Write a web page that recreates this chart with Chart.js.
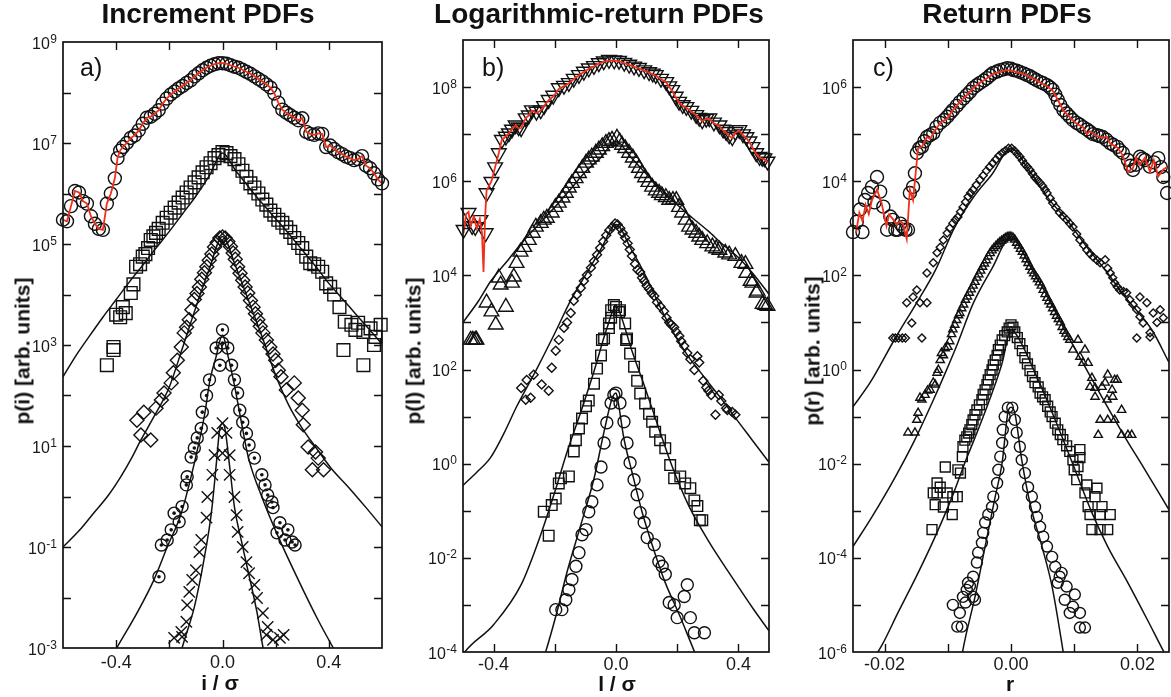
<!DOCTYPE html>
<html>
<head>
<meta charset="utf-8">
<script src="https://cdn.jsdelivr.net/npm/chart.js@4.4.1/dist/chart.umd.min.js"></script>
<style>
  html, body { margin:0; padding:0; background:#fff; width:1171px; height:697px; overflow:hidden; }
  canvas { position:absolute; top:0; }
  .t { position:absolute; font-family:"Liberation Sans", Arial, Helvetica, sans-serif; color:#111; line-height:1; white-space:nowrap; }
  .title { font-weight:bold; font-size:28px; transform:translateX(-50%); }
  .ytitle { font-weight:bold; font-size:21px; transform:translate(-50%,-50%) rotate(-90deg); }
  .xtitle { font-weight:bold; font-size:21px; transform:translateX(-50%); }
  .letter { font-size:25px; }
</style>
</head>
<body>
<canvas id="ca" width="390" height="697" style="left:0px"></canvas>
<canvas id="cb" width="390" height="697" style="left:390px"></canvas>
<canvas id="cc" width="391" height="697" style="left:780px"></canvas>

<div class="t title" style="left:208px; top:0px">Increment PDFs</div>
<div class="t title" style="left:599px; top:0px">Logarithmic-return PDFs</div>
<div class="t title" style="left:1007px; top:0px">Return PDFs</div>

<div class="t letter" style="left:80px; top:55px">a)</div>
<div class="t letter" style="left:482px; top:55px">b)</div>
<div class="t letter" style="left:873px; top:55px">c)</div>

<div class="t ytitle" style="left:22px; top:351px">p(i) [arb. units]</div>
<div class="t ytitle" style="left:413px; top:351px">p(l) [arb. units]</div>
<div class="t ytitle" style="left:812px; top:351px">p(r) [arb. units]</div>

<div class="t xtitle" style="left:220px; top:672px">i / σ</div>
<div class="t xtitle" style="left:617px; top:673px">l / σ</div>
<div class="t xtitle" style="left:1010px; top:673px">r</div>

<script>
// ---------------- DATA: pairs of [x, log10 p] ----------------
// Panel a) Increment PDFs
const aXTicks = [-0.6, -0.4, -0.2, 0, 0.2, 0.4, 0.6];
const aXText  = ['', '-0.4', '', '0.0', '', '0.4', ''];
const aYExps  = [-3,-2,-1,0,1,2,3,4,5,6,7,8,9];
const aYLabels = [9,7,5,3,1,-1,-3];

const aTop = [[-0.600,5.48],[-0.585,5.45],[-0.570,5.75],[-0.555,6.05],[-0.540,6.02],[-0.525,5.85],[-0.510,5.80],[-0.495,5.55],[-0.480,5.40],[-0.465,5.30],[-0.450,5.28],[-0.435,5.80],[-0.420,6.00],[-0.405,6.30],[-0.395,6.70],[-0.385,6.85],[-0.375,6.92],[-0.360,7.00],[-0.345,7.10],[-0.330,7.15],[-0.315,7.25],[-0.300,7.38],[-0.285,7.50],[-0.270,7.52],[-0.255,7.58],[-0.240,7.65],[-0.225,7.78],[-0.210,7.88],[-0.195,7.96],[-0.180,8.02],[-0.165,8.08],[-0.150,8.13],[-0.135,8.19],[-0.120,8.24],[-0.105,8.32],[-0.090,8.38],[-0.075,8.44],[-0.060,8.49],[-0.045,8.53],[-0.030,8.56],[-0.015,8.58],[0.000,8.58],[0.015,8.57],[0.030,8.54],[0.045,8.51],[0.060,8.49],[0.075,8.45],[0.090,8.41],[0.105,8.37],[0.120,8.32],[0.135,8.27],[0.150,8.22],[0.165,8.16],[0.180,8.10],[0.195,7.98],[0.210,7.80],[0.225,7.66],[0.240,7.60],[0.255,7.55],[0.270,7.50],[0.285,7.45],[0.300,7.49],[0.315,7.22],[0.330,7.18],[0.345,7.16],[0.360,7.19],[0.375,7.18],[0.390,6.92],[0.405,6.95],[0.420,6.88],[0.435,6.82],[0.450,6.78],[0.465,6.73],[0.480,6.70],[0.495,6.66],[0.510,6.68],[0.525,6.74],[0.540,6.55],[0.555,6.50],[0.570,6.40],[0.585,6.28],[0.600,6.20]];

const aSq = [[-0.435,2.60],[-0.41,2.90],[-0.41,2.96],[-0.40,3.60],[-0.385,3.55],[-0.375,3.75],[-0.364,3.63],[-0.345,4.03],[-0.335,4.20],[-0.325,4.55],[-0.31,4.60],[-0.30,4.75],[-0.29,4.80],[-0.28,4.92],[-0.27,5.08],[-0.26,5.15],[-0.25,5.22],[-0.24,5.30],[-0.225,5.42],[-0.21,5.52],[-0.195,5.62],[-0.18,5.72],[-0.165,5.82],[-0.15,5.92],[-0.135,6.02],[-0.12,6.12],[-0.105,6.22],[-0.09,6.32],[-0.075,6.42],[-0.06,6.52],[-0.045,6.60],[-0.03,6.70],[-0.015,6.76],[0,6.82],[0.015,6.80],[0.03,6.74],[0.045,6.68],[0.06,6.58],[0.075,6.45],[0.09,6.33],[0.105,6.20],[0.12,6.12],[0.135,6.00],[0.15,5.88],[0.165,5.78],[0.18,5.66],[0.195,5.58],[0.21,5.48],[0.225,5.42],[0.24,5.33],[0.255,5.24],[0.27,5.12],[0.285,5.02],[0.30,4.92],[0.315,4.75],[0.33,4.62],[0.345,4.60],[0.36,4.55],[0.375,4.45],[0.39,4.22],[0.405,4.15],[0.42,4.00],[0.44,3.75],[0.455,2.90],[0.46,3.46],[0.485,3.40],[0.50,3.30],[0.51,3.44],[0.53,2.60],[0.53,3.26],[0.557,3.33],[0.575,3.16],[0.595,3.40],[0.57,3.0]];
const aSqFit = [[-0.6,2.37],[-0.55,2.8],[-0.5,3.18],[-0.45,3.55],[-0.4,3.9],[-0.35,4.25],[-0.3,4.58],[-0.25,4.92],[-0.2,5.25],[-0.15,5.6],[-0.1,5.95],[-0.05,6.35],[0,6.8],[0.05,6.45],[0.1,6.12],[0.15,5.8],[0.2,5.5],[0.25,5.2],[0.3,4.88],[0.35,4.56],[0.4,4.22],[0.45,3.92],[0.5,3.62],[0.55,3.32],[0.6,3.02]];

const aDia = [[-0.322,1.51],[-0.307,1.22],[-0.296,1.67],[-0.27,1.12],[-0.25,1.75],[-0.23,1.91],[-0.22,2.05],[-0.193,2.25],[-0.185,2.45],[-0.17,2.7],[-0.155,2.96],[-0.144,3.24],[-0.135,3.35],[-0.125,3.5],[-0.115,3.7],[-0.106,3.9],[-0.096,4.02],[-0.087,4.15],[-0.078,4.3],[-0.068,4.43],[-0.059,4.55],[-0.05,4.68],[-0.04,4.8],[-0.03,4.94],[-0.02,5.03],[-0.01,5.12],[0.0,5.14],[0.01,5.12],[0.02,5.05],[0.03,4.95],[0.04,4.82],[0.048,4.7],[0.057,4.55],[0.066,4.42],[0.076,4.28],[0.085,4.15],[0.095,4.03],[0.105,3.88],[0.115,3.75],[0.124,3.62],[0.133,3.5],[0.142,3.37],[0.152,3.24],[0.165,3.1],[0.178,2.96],[0.19,2.82],[0.2,2.7],[0.21,2.5],[0.22,2.37],[0.24,2.11],[0.27,2.25],[0.285,1.95],[0.3,1.71],[0.304,1.42],[0.322,0.98],[0.35,0.88],[0.36,0.76],[0.338,0.53],[0.38,0.53]];
const aDiaFit = [[-0.6,-1.0],[-0.54,-0.68],[-0.485,-0.33],[-0.43,0.02],[-0.383,0.39],[-0.34,0.78],[-0.307,1.12],[-0.258,1.58],[-0.2,2.17],[-0.15,2.95],[-0.1,3.75],[-0.05,4.5],[0,5.15],[0.05,4.55],[0.1,3.85],[0.15,3.15],[0.2,2.4],[0.25,1.8],[0.3,1.35],[0.35,0.98],[0.41,0.55],[0.473,0.19],[0.54,-0.22],[0.6,-0.6]];

const aBull = [[-0.239,-1.59],[-0.23,-0.96],[-0.208,-0.86],[-0.193,-0.66],[-0.182,-0.33],[-0.163,-0.5],[-0.152,-0.2],[-0.136,0.23],[-0.133,0.39],[-0.118,0.78],[-0.106,0.96],[-0.095,1.16],[-0.08,1.35],[-0.076,1.67],[-0.06,2.0],[-0.049,2.31],[-0.024,2.94],[-0.01,2.6],[0,3.04],[0,3.3],[0.02,2.94],[0.034,2.6],[0.045,2.31],[0.057,2.05],[0.065,1.71],[0.076,1.47],[0.09,1.25],[0.1,1.02],[0.12,0.76],[0.148,0.43],[0.16,0.23],[0.17,0.03],[0.186,-0.11],[0.19,-0.22],[0.216,-0.52],[0.246,-0.66],[0.205,-0.72],[0.235,-0.86],[0.262,-0.9],[0.273,-0.96]];
const aBullFit = [[-0.44,-3.4],[-0.398,-3.0],[-0.322,-2.31],[-0.258,-1.65],[-0.208,-1.0],[-0.155,-0.33],[-0.106,0.66],[-0.068,1.6],[-0.047,2.31],[-0.025,2.75],[0,3.2],[0.02,2.8],[0.045,2.2],[0.07,1.5],[0.097,0.78],[0.148,-0.01],[0.21,-0.8],[0.285,-1.65],[0.36,-2.45],[0.417,-3.0],[0.45,-3.3]];

const aX = [[-0.02,1.26],[0,1.45],[-0.03,0.82],[-0.038,0.43],[-0.057,-0.01],[-0.06,-0.42],[-0.08,-0.86],[-0.087,-1.1],[-0.1,-1.46],[-0.114,-1.65],[-0.125,-1.89],[-0.133,-2.15],[-0.136,-2.48],[-0.155,-2.68],[-0.182,-2.8],[-0.152,-2.78],[0,0.86],[0.015,1.26],[0.027,0.82],[0.027,0.43],[0.045,-0.01],[0.053,-0.37],[0.057,-0.7],[0.076,-1.0],[0.09,-1.3],[0.1,-1.52],[0.12,-1.75],[0.13,-2.01],[0.152,-2.31],[0.17,-2.58],[0.19,-2.84],[0.23,-2.74],[0.216,-2.8],[0.165,-2.74]];
const aXFit = [[-0.17,-3.4],[-0.152,-3.0],[-0.106,-2.19],[-0.068,-1.2],[-0.042,-0.33],[-0.023,0.66],[-0.011,1.32],[0,1.45],[0.01,1.32],[0.027,0.59],[0.045,-0.21],[0.072,-0.9],[0.095,-1.45],[0.13,-2.3],[0.152,-2.98],[0.165,-3.3]];

// Panel b) Logarithmic-return PDFs
const bXTicks = [-0.5, -0.4, -0.2, 0, 0.2, 0.4, 0.5];
const bXText  = ['', '-0.4', '', '0.0', '', '0.4', ''];
const bYExps  = [-4,-3,-2,-1,0,1,2,3,4,5,6,7,8,9];
const bYLabels = [8,6,4,2,0,-2,-4];

const bTop = [[-0.498,4.97],[-0.482,5.33],[-0.47,5.05],[-0.46,5.03],[-0.443,5.18],[-0.426,4.9],[-0.423,5.75],[-0.407,5.99],[-0.395,6.3],[-0.383,6.6],[-0.373,6.88],[-0.36,6.95],[-0.35,7.02],[-0.34,7.1],[-0.328,7.19],[-0.318,7.15],[-0.31,7.13],[-0.295,7.34],[-0.285,7.4],[-0.275,7.51],[-0.26,7.48],[-0.246,7.51],[-0.235,7.6],[-0.22,7.73],[-0.205,7.82],[-0.187,7.98],[-0.17,8.03],[-0.154,8.09],[-0.138,8.18],[-0.121,8.26],[-0.105,8.33],[-0.089,8.4],[-0.072,8.45],[-0.056,8.51],[-0.04,8.55],[-0.023,8.58],[-0.006,8.57],[0.01,8.56],[0.027,8.52],[0.043,8.48],[0.059,8.44],[0.075,8.41],[0.092,8.36],[0.108,8.32],[0.12,8.29],[0.13,8.26],[0.147,8.18],[0.164,8.11],[0.174,8.02],[0.184,7.94],[0.195,7.8],[0.206,7.69],[0.218,7.62],[0.23,7.58],[0.246,7.5],[0.262,7.41],[0.272,7.35],[0.282,7.3],[0.295,7.33],[0.305,7.34],[0.32,7.25],[0.338,7.19],[0.35,7.1],[0.36,7.05],[0.37,6.98],[0.38,6.94],[0.39,7.05],[0.403,7.09],[0.415,7.0],[0.426,6.94],[0.436,6.85],[0.446,6.73],[0.458,6.6],[0.469,6.52],[0.478,6.5],[0.485,6.49],[0.495,6.42]];
const bRed = [[-0.498,4.9],[-0.49,5.3],[-0.482,5.35],[-0.475,5.05],[-0.465,5.25],[-0.455,5.0],[-0.445,5.2],[-0.438,4.9],[-0.433,4.07],[-0.428,5.2],[-0.423,5.8],[-0.407,6.0],[-0.395,6.3],[-0.383,6.6],[-0.373,6.88],[-0.36,6.95],[-0.35,7.02],[-0.34,7.1],[-0.328,7.19],[-0.318,7.12],[-0.31,7.13],[-0.295,7.34],[-0.285,7.4],[-0.275,7.5],[-0.26,7.45],[-0.246,7.5],[-0.235,7.6],[-0.22,7.72],[-0.205,7.8],[-0.187,7.96],[-0.17,8.02],[-0.154,8.08],[-0.138,8.17],[-0.121,8.25],[-0.105,8.32],[-0.089,8.39],[-0.072,8.44],[-0.056,8.5],[-0.04,8.54],[-0.023,8.56],[-0.006,8.56],[0.01,8.55],[0.027,8.51],[0.043,8.47],[0.059,8.43],[0.075,8.4],[0.092,8.35],[0.108,8.31],[0.12,8.27],[0.13,8.24],[0.147,8.17],[0.164,8.1],[0.174,8.0],[0.184,7.92],[0.195,7.78],[0.206,7.67],[0.218,7.6],[0.23,7.56],[0.246,7.48],[0.262,7.4],[0.272,7.33],[0.282,7.28],[0.295,7.32],[0.305,7.33],[0.32,7.23],[0.338,7.17],[0.35,7.08],[0.36,7.03],[0.37,6.96],[0.38,6.92],[0.39,7.03],[0.403,7.07],[0.415,6.98],[0.426,6.92],[0.436,6.83],[0.446,6.72],[0.458,6.58],[0.469,6.5],[0.478,6.48],[0.485,6.47],[0.495,6.4]];

const bTri = [[-0.475,2.63],[-0.468,2.63],[-0.46,2.63],[-0.456,2.63],[-0.423,3.42],[-0.407,3.23],[-0.393,2.95],[-0.383,3.95],[-0.377,3.8],[-0.36,3.33],[-0.34,3.84],[-0.334,3.97],[-0.325,4.26],[-0.312,4.5],[-0.3,4.6],[-0.285,4.75],[-0.272,4.9],[-0.262,5.03],[-0.246,5.11],[-0.236,5.18],[-0.226,5.22],[-0.21,5.33],[-0.198,5.45],[-0.187,5.54],[-0.175,5.65],[-0.164,5.75],[-0.154,5.86],[-0.144,5.96],[-0.132,6.06],[-0.121,6.17],[-0.11,6.28],[-0.098,6.39],[-0.089,6.46],[-0.079,6.52],[-0.066,6.6],[-0.056,6.67],[-0.045,6.74],[-0.033,6.81],[-0.023,6.85],[-0.013,6.88],[0.003,6.92],[0.012,6.84],[0.02,6.77],[0.03,6.7],[0.043,6.6],[0.055,6.5],[0.066,6.39],[0.075,6.28],[0.085,6.17],[0.095,6.08],[0.106,5.98],[0.118,5.88],[0.13,5.8],[0.141,5.75],[0.15,5.7],[0.163,5.66],[0.174,5.6],[0.186,5.6],[0.197,5.6],[0.206,5.45],[0.216,5.33],[0.228,5.18],[0.239,5.03],[0.25,4.97],[0.262,4.9],[0.272,4.82],[0.282,4.75],[0.298,4.68],[0.315,4.61],[0.327,4.57],[0.338,4.54],[0.357,4.48],[0.37,4.44],[0.39,4.41],[0.41,4.26],[0.423,4.24],[0.426,4.05],[0.44,3.88],[0.446,3.84],[0.459,3.63],[0.462,3.67],[0.479,3.39],[0.487,3.37],[0.495,3.35]];
const bTriFit = [[-0.5,3.0],[-0.45,3.45],[-0.41,3.87],[-0.35,4.35],[-0.3,4.75],[-0.25,5.1],[-0.2,5.45],[-0.15,5.82],[-0.1,6.2],[-0.05,6.5],[0,6.85],[0.05,6.5],[0.1,6.15],[0.15,5.82],[0.2,5.5],[0.25,5.22],[0.3,4.95],[0.35,4.65],[0.4,4.38],[0.45,4.02],[0.5,3.6]];

const bDia = [[-0.31,1.61],[-0.295,1.36],[-0.279,1.4],[-0.292,1.78],[-0.269,1.89],[-0.243,1.68],[-0.22,1.55],[-0.21,2.04],[-0.197,2.4],[-0.187,2.63],[-0.17,2.89],[-0.16,3.0],[-0.148,3.2],[-0.138,3.46],[-0.128,3.59],[-0.115,3.73],[-0.105,3.88],[-0.095,4.01],[-0.082,4.16],[-0.072,4.3],[-0.062,4.44],[-0.052,4.58],[-0.042,4.72],[-0.032,4.85],[-0.022,4.96],[-0.012,5.03],[-0.003,5.1],[0.005,5.08],[0.014,5.0],[0.022,4.9],[0.03,4.8],[0.038,4.68],[0.045,4.55],[0.052,4.41],[0.062,4.24],[0.07,4.12],[0.079,4.07],[0.085,3.95],[0.092,3.88],[0.1,3.78],[0.108,3.71],[0.117,3.62],[0.125,3.56],[0.134,3.43],[0.145,3.34],[0.157,3.24],[0.165,3.1],[0.174,3.0],[0.18,2.95],[0.19,2.9],[0.197,2.8],[0.207,2.71],[0.213,2.6],[0.223,2.5],[0.233,2.35],[0.243,2.22],[0.256,1.99],[0.266,2.28],[0.272,2.15],[0.285,1.76],[0.295,1.62],[0.302,1.55],[0.311,1.46],[0.325,1.04],[0.336,1.46],[0.344,1.33],[0.36,1.18],[0.364,1.14],[0.38,1.1],[0.39,1.04]];
const bDiaFit = [[-0.5,-0.46],[-0.455,-0.18],[-0.41,0.13],[-0.365,0.66],[-0.325,1.21],[-0.26,2.0],[-0.2,2.77],[-0.148,3.47],[-0.095,4.06],[-0.05,4.55],[0,5.08],[0.05,4.55],[0.1,3.95],[0.148,3.28],[0.19,2.75],[0.236,2.28],[0.275,1.95],[0.311,1.65],[0.35,1.33],[0.386,1.01],[0.443,0.52],[0.5,0.03]];

const bSq = [[-0.22,-1.53],[-0.236,-1.02],[-0.21,-0.88],[-0.197,-0.74],[-0.187,-0.42],[-0.18,-0.31],[-0.154,-0.27],[-0.138,0.26],[-0.131,0.5],[-0.121,0.75],[-0.111,0.96],[-0.098,1.22],[-0.089,1.34],[-0.072,1.7],[-0.062,2.02],[-0.049,2.3],[-0.046,2.63],[-0.039,2.66],[-0.023,2.98],[-0.023,2.88],[-0.016,3.1],[-0.016,3.26],[-0.007,3.37],[0.0,3.33],[0.01,3.22],[0.013,3.26],[0.03,2.98],[0.033,2.63],[0.036,2.66],[0.046,2.34],[0.059,2.06],[0.069,1.76],[0.079,1.49],[0.095,1.28],[0.108,1.06],[0.118,0.89],[0.128,0.68],[0.144,0.5],[0.161,0.33],[0.177,-0.03],[0.19,-0.31],[0.21,-0.27],[0.226,-0.42],[0.243,-0.52],[0.256,-0.78],[0.266,-0.9],[0.282,-1.2],[0.274,-1.2]];
const bSqFit = [[-0.52,-4.3],[-0.5,-4.05],[-0.4,-3.42],[-0.31,-2.57],[-0.246,-1.51],[-0.2,-0.6],[-0.16,0.25],[-0.115,1.1],[-0.072,1.96],[-0.03,2.87],[0,3.35],[0.01,3.25],[0.052,2.4],[0.095,1.61],[0.14,0.75],[0.183,-0.05],[0.236,-0.87],[0.302,-1.64],[0.38,-2.42],[0.446,-3.06],[0.5,-3.55]];

const bCirc = [[-0.197,-3.1],[-0.177,-3.1],[-0.164,-2.89],[-0.154,-2.68],[-0.144,-2.46],[-0.131,-2.18],[-0.121,-1.89],[-0.111,-1.51],[-0.098,-1.4],[-0.089,-1.02],[-0.079,-0.81],[-0.062,-0.45],[-0.049,-0.07],[-0.039,0.44],[-0.03,0.87],[-0.016,1.29],[-0.007,1.46],[0,1.5],[0.013,1.29],[0.026,0.89],[0.036,0.44],[0.046,0.02],[0.059,-0.34],[0.069,-0.66],[0.079,-1.04],[0.092,-1.25],[0.102,-1.57],[0.125,-1.72],[0.14,-2.08],[0.151,-2.18],[0.161,-2.35],[0.174,-2.95],[0.19,-3.0],[0.2,-3.27],[0.223,-2.82],[0.233,-2.57],[0.243,-3.27],[0.256,-3.59],[0.289,-3.59]];
const bCircFit = [[-0.24,-4.2],[-0.23,-4.0],[-0.193,-3.15],[-0.16,-2.3],[-0.115,-1.3],[-0.072,-0.32],[-0.039,0.68],[-0.013,1.38],[0,1.5],[0.003,1.45],[0.026,0.53],[0.052,-0.17],[0.085,-1.02],[0.118,-1.72],[0.16,-2.51],[0.207,-3.21],[0.243,-3.78],[0.26,-4.05]];

// Panel c) Return PDFs
const cXTicks = [-0.025, -0.02, -0.01, 0, 0.01, 0.02, 0.025];
const cXText  = ['', '-0.02', '', '0.00', '', '0.02', ''];
const cYExps  = [-6,-5,-4,-3,-2,-1,0,1,2,3,4,5,6,7];
const cYLabels = [6,4,2,0,-2,-4,-6];

const cTop = [[-0.025,2.92],[-0.0244,3.14],[-0.0239,3.4],[-0.0235,2.92],[-0.0231,3.6],[-0.0226,3.75],[-0.022,3.88],[-0.0216,3.55],[-0.0212,4.09],[-0.0207,3.78],[-0.0202,3.46],[-0.0196,2.97],[-0.0191,3.25],[-0.0187,3.18],[-0.0183,2.97],[-0.0179,2.97],[-0.0175,3.1],[-0.0171,3.03],[-0.0167,2.97],[-0.0163,2.97],[-0.016,3.75],[-0.0155,3.88],[-0.0152,4.17],[-0.0149,4.6],[-0.0145,4.7],[-0.0141,4.73],[-0.0137,4.85],[-0.0133,4.94],[-0.0128,4.98],[-0.0123,5.02],[-0.0118,5.15],[-0.0112,5.24],[-0.0106,5.3],[-0.0101,5.37],[-0.0096,5.45],[-0.0092,5.51],[-0.0086,5.6],[-0.0081,5.68],[-0.0075,5.76],[-0.007,5.83],[-0.0065,5.9],[-0.006,5.98],[-0.0054,6.04],[-0.0049,6.09],[-0.0043,6.14],[-0.0038,6.19],[-0.0033,6.25],[-0.0028,6.3],[-0.0022,6.33],[-0.0017,6.36],[-0.0011,6.38],[-0.0006,6.4],[0,6.39],[0.0004,6.36],[0.0009,6.35],[0.0014,6.32],[0.002,6.29],[0.0025,6.26],[0.003,6.23],[0.0035,6.19],[0.004,6.15],[0.0046,6.11],[0.0051,6.08],[0.0057,6.04],[0.0062,5.99],[0.0066,5.94],[0.007,5.84],[0.0074,5.73],[0.0078,5.62],[0.0083,5.51],[0.0088,5.44],[0.0093,5.37],[0.0098,5.3],[0.0104,5.24],[0.0109,5.2],[0.0114,5.15],[0.012,5.1],[0.0125,5.05],[0.013,5.0],[0.0136,4.98],[0.014,4.96],[0.0145,4.94],[0.0151,4.88],[0.0157,4.81],[0.0162,4.77],[0.0168,4.73],[0.0172,4.66],[0.0177,4.6],[0.0185,4.45],[0.0189,4.33],[0.0193,4.24],[0.0198,4.35],[0.0204,4.52],[0.0208,4.48],[0.0212,4.45],[0.022,4.31],[0.0226,4.4],[0.0233,4.49],[0.0237,4.3],[0.0241,4.09],[0.0247,3.75]];
const cRed = [[-0.0245,2.92],[-0.024,3.33],[-0.0235,3.15],[-0.023,3.5],[-0.0225,3.3],[-0.022,3.6],[-0.0212,3.82],[-0.0205,3.55],[-0.0197,3.05],[-0.0193,3.29],[-0.0187,3.2],[-0.0181,3.08],[-0.0175,3.15],[-0.0171,3.1],[-0.0165,2.77],[-0.016,3.82],[-0.0155,3.6],[-0.0147,4.7],[-0.0141,4.73],[-0.0133,4.94],[-0.0128,4.9],[-0.0123,5.02],[-0.0112,5.24],[-0.0101,5.33],[-0.0092,5.51],[-0.0081,5.68],[-0.007,5.83],[-0.006,5.98],[-0.0049,6.09],[-0.0038,6.19],[-0.0028,6.28],[-0.0017,6.33],[-0.0006,6.36],[0.0004,6.34],[0.0014,6.3],[0.0025,6.25],[0.0035,6.18],[0.0046,6.1],[0.0057,6.02],[0.0066,5.92],[0.0074,5.73],[0.0083,5.5],[0.0093,5.36],[0.0104,5.22],[0.0114,5.15],[0.012,5.0],[0.0125,5.06],[0.0136,4.96],[0.0145,4.92],[0.0151,4.95],[0.0157,4.8],[0.0168,4.72],[0.0177,4.55],[0.0185,4.2],[0.0193,4.28],[0.0198,4.5],[0.0204,4.35],[0.0212,4.5],[0.022,4.2],[0.0226,4.45],[0.0233,4.1],[0.0241,4.25],[0.0247,4.3]];

const cDia = [[-0.0187,0.67],[-0.0183,0.67],[-0.0178,0.67],[-0.0172,0.67],[-0.0167,0.67],[-0.0141,0.67],[-0.0165,1.42],[-0.0157,0.99],[-0.0155,1.54],[-0.0144,1.42],[-0.0133,1.42],[-0.0149,1.69],[-0.0133,2.05],[-0.0123,2.27],[-0.0117,2.48],[-0.0112,2.6],[-0.0107,2.75],[-0.0101,2.9],[-0.0097,3.0],[-0.0092,3.11],[-0.0088,3.18],[-0.0084,3.24],[-0.008,3.35],[-0.0076,3.45],[-0.0072,3.56],[-0.0068,3.67],[-0.0064,3.75],[-0.006,3.82],[-0.0055,3.92],[-0.0049,4.03],[-0.0044,4.12],[-0.0039,4.22],[-0.0034,4.3],[-0.0029,4.38],[-0.0024,4.46],[-0.0019,4.54],[-0.0014,4.6],[-0.0009,4.65],[-0.0004,4.7],[0.0001,4.7],[0.0006,4.64],[0.001,4.58],[0.0014,4.52],[0.0018,4.44],[0.0022,4.36],[0.0026,4.3],[0.003,4.24],[0.0034,4.16],[0.0038,4.08],[0.0042,4.02],[0.0046,3.96],[0.005,3.9],[0.0054,3.82],[0.0057,3.75],[0.0062,3.64],[0.0066,3.54],[0.0071,3.44],[0.0077,3.33],[0.0082,3.26],[0.0088,3.18],[0.0093,3.1],[0.0098,3.03],[0.0104,2.88],[0.0109,2.75],[0.0115,2.64],[0.012,2.54],[0.0125,2.46],[0.013,2.39],[0.0136,2.32],[0.0141,2.27],[0.0149,2.33],[0.0153,2.15],[0.0157,2.05],[0.0161,1.95],[0.0164,1.84],[0.0168,1.76],[0.0172,1.69],[0.0178,1.66],[0.0183,1.63],[0.0188,1.48],[0.0193,1.38],[0.0199,1.27],[0.0204,1.54],[0.0209,0.99],[0.0204,1.12],[0.0215,1.42],[0.022,0.78],[0.0225,1.2],[0.0231,1.0],[0.0236,1.27],[0.0199,0.67],[0.022,0.69],[0.0241,1.1]];
const cDiaFit = [[-0.025,-0.79],[-0.0223,-0.28],[-0.0183,0.67],[-0.015,1.4],[-0.012,2.1],[-0.009,3.0],[-0.006,3.65],[-0.003,4.15],[0,4.7],[0.003,4.2],[0.006,3.62],[0.009,3.15],[0.012,2.6],[0.015,2.1],[0.018,1.55],[0.0223,0.84],[0.025,0.15]];

const cTri = [[-0.0163,-1.34],[-0.0152,-1.34],[-0.0149,-1.07],[-0.0147,-0.92],[-0.0144,-0.6],[-0.0141,-0.64],[-0.0136,-0.54],[-0.0132,-0.45],[-0.0128,-0.43],[-0.0123,-0.28],[-0.012,-0.32],[-0.0117,-0.07],[-0.0115,-0.01],[-0.0112,0.2],[-0.011,0.35],[-0.0107,0.3],[-0.0104,0.45],[-0.01,0.48],[-0.0097,0.6],[-0.0094,0.75],[-0.0092,0.85],[-0.0089,0.95],[-0.0086,1.05],[-0.0083,1.15],[-0.0081,1.2],[-0.0078,1.3],[-0.0075,1.38],[-0.0072,1.48],[-0.0069,1.55],[-0.0066,1.63],[-0.0063,1.7],[-0.006,1.78],[-0.0057,1.86],[-0.0054,1.95],[-0.0051,2.02],[-0.0048,2.1],[-0.0045,2.18],[-0.0042,2.25],[-0.0039,2.32],[-0.0036,2.4],[-0.0033,2.47],[-0.003,2.53],[-0.0027,2.58],[-0.0024,2.62],[-0.0021,2.66],[-0.0018,2.7],[-0.0015,2.73],[-0.0012,2.76],[-0.0009,2.79],[-0.0006,2.81],[-0.0003,2.82],[0,2.82],[0.0003,2.8],[0.0006,2.76],[0.0009,2.69],[0.0012,2.63],[0.0015,2.56],[0.0018,2.5],[0.0021,2.42],[0.0024,2.34],[0.0027,2.26],[0.003,2.18],[0.0033,2.1],[0.0036,2.04],[0.0039,1.98],[0.0042,1.92],[0.0045,1.85],[0.0048,1.78],[0.0051,1.69],[0.0054,1.6],[0.0057,1.52],[0.006,1.45],[0.0063,1.38],[0.0066,1.3],[0.0069,1.22],[0.0072,1.14],[0.0075,1.07],[0.0078,1.0],[0.0081,0.9],[0.0084,0.82],[0.0087,0.76],[0.009,0.69],[0.0093,0.63],[0.0098,0.42],[0.0106,0.63],[0.0109,0.27],[0.0114,0.14],[0.0117,0.42],[0.0122,0.14],[0.0125,-0.37],[0.0128,-0.18],[0.0133,-0.39],[0.0133,-0.58],[0.0138,-1.39],[0.0141,-1.07],[0.0144,-0.37],[0.0149,-0.28],[0.0152,-0.64],[0.0153,-0.11],[0.0153,-1.07],[0.016,-0.43],[0.0161,-0.58],[0.0164,-0.22],[0.0164,-1.07],[0.0168,-0.22],[0.0175,-0.86],[0.0175,-1.39],[0.0185,-1.39],[0.0191,-1.39]];
const cTriFit = [[-0.025,-3.76],[-0.022,-3.13],[-0.0183,-2.28],[-0.0152,-1.49],[-0.0125,-0.71],[-0.0104,-0.07],[-0.0084,0.57],[-0.006,1.4],[-0.003,2.15],[0,2.82],[0.003,2.2],[0.006,1.5],[0.0085,0.84],[0.0117,0.06],[0.0149,-0.71],[0.018,-1.43],[0.0212,-2.13],[0.025,-2.98]];

const cSq = [[-0.0125,-3.4],[-0.0123,-2.62],[-0.012,-2.87],[-0.0117,-2.41],[-0.0117,-2.62],[-0.0112,-2.5],[-0.0107,-2.92],[-0.0104,-2.07],[-0.0101,-2.62],[-0.0093,-3.08],[-0.0092,-2.7],[-0.0085,-2.7],[-0.0084,-2.13],[-0.008,-2.2],[-0.0077,-1.85],[-0.0076,-1.64],[-0.0073,-1.5],[-0.007,-1.43],[-0.0067,-1.35],[-0.0065,-1.28],[-0.0062,-1.17],[-0.006,-1.07],[-0.0057,-0.96],[-0.0054,-0.86],[-0.005,-0.75],[-0.0046,-0.64],[-0.0044,-0.53],[-0.0041,-0.43],[-0.0038,-0.32],[-0.0036,-0.22],[-0.0033,-0.11],[-0.003,-0.01],[-0.0028,0.1],[-0.0025,0.2],[-0.0022,0.3],[-0.002,0.42],[-0.0017,0.52],[-0.0014,0.63],[-0.001,0.72],[-0.0006,0.8],[-0.0003,0.88],[0,0.95],[0.0003,0.9],[0.0006,0.8],[0.001,0.68],[0.0014,0.55],[0.0018,0.4],[0.0022,0.25],[0.0026,0.12],[0.003,-0.02],[0.0034,-0.15],[0.0038,-0.28],[0.0043,-0.37],[0.0046,-0.5],[0.005,-0.58],[0.0054,-0.64],[0.0058,-0.78],[0.0062,-0.9],[0.0065,-1.0],[0.007,-1.14],[0.0074,-1.28],[0.0078,-1.38],[0.0082,-1.49],[0.0088,-1.62],[0.0093,-1.74],[0.0098,-1.92],[0.01,-2.13],[0.0109,-1.7],[0.0109,-1.87],[0.0106,-2.06],[0.0104,-2.34],[0.012,-2.45],[0.0136,-2.52],[0.0117,-2.62],[0.0133,-2.7],[0.0122,-2.91],[0.0144,-2.91],[0.0125,-3.08],[0.0141,-3.08],[0.0157,-3.08],[0.0128,-3.4],[0.0141,-3.4],[0.0153,-3.4]];
const cSqFit = [[-0.022,-6.2],[-0.0204,-5.85],[-0.0179,-5.17],[-0.0147,-4.32],[-0.012,-3.55],[-0.0093,-2.7],[-0.0073,-1.98],[-0.0052,-1.28],[-0.003,-0.5],[-0.0014,0.14],[0,0.85],[0.0011,0.69],[0.0043,-0.22],[0.007,-1.07],[0.0097,-1.98],[0.0128,-3.04],[0.0153,-3.76],[0.0185,-4.53],[0.0216,-5.32],[0.024,-5.95],[0.0252,-6.25]];

const cCirc = [[-0.0005,-0.81],[-0.001,-1.0],[-0.0013,-1.28],[-0.0014,-1.56],[-0.0017,-1.85],[-0.002,-2.13],[-0.0022,-2.41],[-0.0028,-2.7],[-0.003,-2.92],[-0.0036,-3.08],[-0.0041,-3.25],[-0.0044,-3.47],[-0.0046,-3.68],[-0.0052,-3.89],[-0.0054,-4.1],[-0.006,-4.4],[-0.0068,-4.53],[-0.007,-4.68],[-0.0076,-4.83],[-0.006,-4.83],[-0.0057,-4.89],[-0.0092,-5.0],[-0.0081,-5.17],[-0.0085,-5.46],[-0.0078,-5.46],[-0.0065,-4.6],[-0.0072,-4.95],[0.0002,-0.81],[0.0006,-1.07],[0.0009,-1.34],[0.0014,-1.64],[0.0017,-1.92],[0.0022,-2.2],[0.0027,-2.5],[0.0033,-2.7],[0.0038,-2.92],[0.0041,-3.13],[0.0046,-3.34],[0.0051,-3.55],[0.0057,-3.76],[0.0065,-3.98],[0.007,-4.19],[0.0077,-4.4],[0.0088,-4.61],[0.0074,-4.53],[0.0101,-4.78],[0.0085,-4.89],[0.0098,-5.04],[0.0093,-5.17],[0.0109,-5.17],[0.0109,-5.48],[0.0117,-5.48],[0.008,-4.32]];
const cCircFit = [[-0.008,-6.3],[-0.0076,-5.95],[-0.0057,-4.83],[-0.0041,-3.76],[-0.0025,-2.7],[-0.0014,-1.98],[-0.0005,-0.92],[0,-0.8],[0.0006,-0.92],[0.0017,-1.92],[0.003,-2.84],[0.0049,-3.76],[0.0065,-4.61],[0.0082,-5.95],[0.0086,-6.3]];

// ---------------- drawing helpers ----------------
const FONT = '"Liberation Sans", Arial, Helvetica, sans-serif';
const INK = '#111111';
const RED = '#f0301a';

function pts(pairs) { return pairs.map(p => ({ x: p[0], y: Math.pow(10, p[1]) })); }

function markers(pairs, style, r, extra) {
  return Object.assign({
    type: 'scatter', data: pts(pairs), pointStyle: style,
    pointRadius: r, pointHoverRadius: r,
    pointBorderColor: INK, pointBackgroundColor: 'rgba(0,0,0,0)',
    pointBorderWidth: 1.4, showLine: false, clip: false, order: 2
  }, extra || {});
}
function fitLine(pairs) {
  return { type: 'line', data: pts(pairs), borderColor: INK, borderWidth: 1.5,
    pointRadius: 0, pointHoverRadius: 0, cubicInterpolationMode: 'monotone', fill: false, order: 1 };
}
function redLine(pairs) {
  return { type: 'line', data: pts(pairs), borderColor: RED, borderWidth: 1.8,
    pointRadius: 0, pointHoverRadius: 0, tension: 0, fill: false, order: 0 };
}

const framePlugin = {
  id: 'frame',
  afterDatasetsDraw(chart, args, opts) {
    const { ctx, chartArea: a } = chart;
    const xs = chart.scales.x, ys = chart.scales.y;
    ctx.save();
    ctx.strokeStyle = INK;
    ctx.lineWidth = 1.4;
    ctx.beginPath();
    xs.ticks.forEach(t => {
      if (t.value <= xs.min || t.value >= xs.max) return;
      const px = Math.round(xs.getPixelForValue(t.value)) + 0.5;
      ctx.moveTo(px, a.bottom); ctx.lineTo(px, a.bottom - 8);
      ctx.moveTo(px, a.top); ctx.lineTo(px, a.top + 8);
    });
    ys.ticks.forEach(t => {
      if (t.value <= ys.min * 1.0001 || t.value >= ys.max * 0.9999) return;
      const py = Math.round(ys.getPixelForValue(t.value)) + 0.5;
      ctx.moveTo(a.left, py); ctx.lineTo(a.left + 8, py);
      ctx.moveTo(a.right, py); ctx.lineTo(a.right - 8, py);
    });
    ctx.stroke();
    ctx.lineWidth = 1.7;
    ctx.strokeRect(a.left, a.top, a.right - a.left, a.bottom - a.top);

    // y tick labels: "10" with superscript exponent
    ctx.fillStyle = '#1a1a1a';
    ctx.textBaseline = 'alphabetic';
    (opts.labels || []).forEach(e => {
      const py = ys.getPixelForValue(Math.pow(10, e));
      const sup = String(e);
      const right = a.left - 6;
      ctx.font = '12px ' + FONT;
      const sw = ctx.measureText(sup).width;
      ctx.textAlign = 'left';
      ctx.fillText(sup, right - sw, py + 0.5);
      ctx.font = '16px ' + FONT;
      ctx.textAlign = 'right';
      ctx.fillText('10', right - sw - 0.5, py + 6.5);
    });
    ctx.restore();
  }
};

function makeChart(id, cfg) {
  return new Chart(document.getElementById(id), {
    type: 'scatter',
    data: { datasets: cfg.datasets },
    options: {
      responsive: false, animation: false, events: [],
      layout: { autoPadding: false, padding: { left: 0, right: cfg.padRight, top: cfg.padTop, bottom: 0 } },
      plugins: { legend: { display: false }, tooltip: { enabled: false }, frame: { labels: cfg.yLabels } },
      scales: {
        x: {
          type: 'linear', min: cfg.xMin, max: cfg.xMax,
          grid: { display: false, drawTicks: false }, border: { display: false },
          afterBuildTicks: s => { s.ticks = cfg.xTicks.map(v => ({ value: v })); },
          afterFit: s => { s.height = cfg.xHeight; },
          ticks: { autoSkip: false, maxRotation: 0, minRotation: 0, padding: cfg.xPad, color: '#1a1a1a',
                   font: { family: FONT, size: 18 }, callback: (v, i) => cfg.xText[i] }
        },
        y: {
          type: 'logarithmic', min: Math.pow(10, cfg.yExps[0]), max: Math.pow(10, cfg.yExps[cfg.yExps.length - 1]),
          grid: { display: false, drawTicks: false }, border: { display: false },
          afterBuildTicks: s => { s.ticks = cfg.yExps.map(e => ({ value: Math.pow(10, e) })); },
          afterFit: s => { s.width = cfg.yWidth; },
          ticks: { display: false }
        }
      }
    },
    plugins: [framePlugin]
  });
}

// Panel a
makeChart('ca', {
  xMin: -0.6, xMax: 0.6, xTicks: aXTicks, xText: aXText, yExps: aYExps, yLabels: aYLabels,
  padTop: 42, padRight: 8, yWidth: 63, xHeight: 49, xPad: 4,
  datasets: [
    redLine(aTop),
    markers(aTop, 'circle', 6.5),
    fitLine(aSqFit), markers(aSq, 'rect', 9),
    fitLine(aDiaFit), markers(aDia, 'rectRot', 7),
    fitLine(aBullFit), markers(aBull, 'circle', 6),
    markers(aBull, 'circle', 1.8, { pointBackgroundColor: INK, pointBorderWidth: 0 }),
    fitLine(aXFit), markers(aX, 'crossRot', 8)
  ]
});

// Panel b
makeChart('cb', {
  xMin: -0.5, xMax: 0.5, xTicks: bXTicks, xText: bXText, yExps: bYExps, yLabels: bYLabels,
  padTop: 40, padRight: 11, yWidth: 73, xHeight: 45, xPad: 2,
  datasets: [
    redLine(bRed),
    markers(bTop, 'triangle', 8.5, { pointRotation: 180 }),
    fitLine(bTriFit), markers(bTri, 'triangle', 8.5),
    fitLine(bDiaFit), markers(bDia, 'rectRot', 4.5),
    fitLine(bSqFit), markers(bSq, 'rect', 7.5),
    fitLine(bCircFit), markers(bCirc, 'circle', 6)
  ]
});

// Panel c
makeChart('cc', {
  xMin: -0.025, xMax: 0.025, xTicks: cXTicks, xText: cXText, yExps: cYExps, yLabels: cYLabels,
  padTop: 40, padRight: 2, yWidth: 73, xHeight: 45, xPad: 2,
  datasets: [
    redLine(cRed),
    markers(cTop, 'circle', 6.5),
    fitLine(cDiaFit), markers(cDia, 'rectRot', 4),
    fitLine(cTriFit), markers(cTri, 'triangle', 4.8),
    fitLine(cSqFit), markers(cSq, 'rect', 7),
    fitLine(cCircFit), markers(cCirc, 'circle', 5.5)
  ]
});
</script>
</body>
</html>
